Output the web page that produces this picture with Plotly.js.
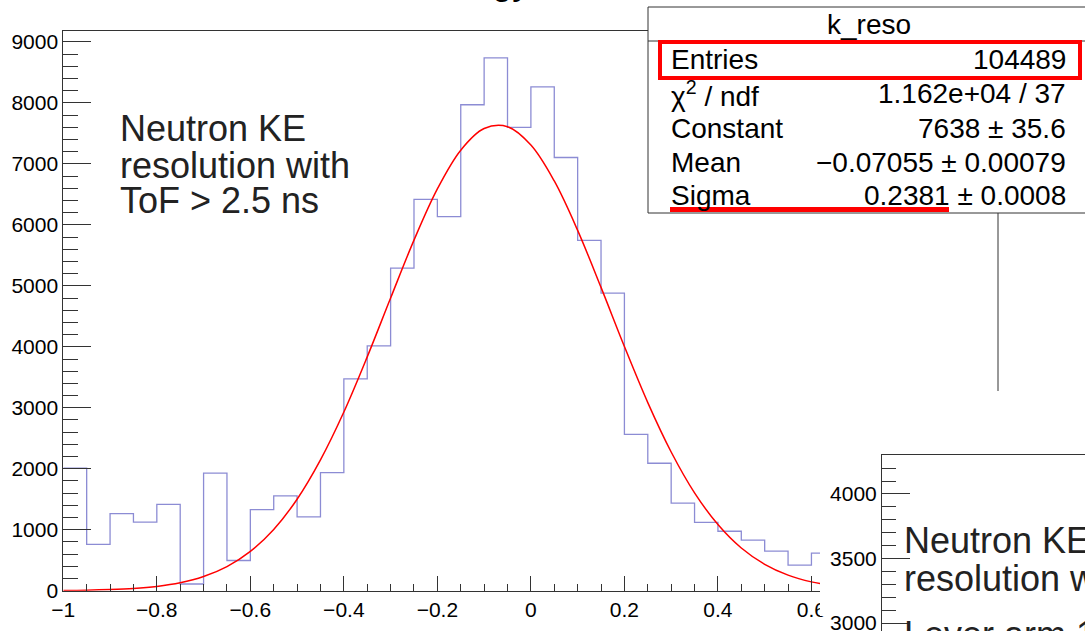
<!DOCTYPE html>
<html>
<head>
<meta charset="utf-8">
<script src="https://cdn.plot.ly/plotly-3.0.1.min.js"></script>
<style>
html,body{margin:0;padding:0;background:#fff;overflow:hidden;}
#plot{width:1085px;height:631px;}
</style>
</head>
<body>
<div id="plot"></div>
<script>
// ---- data ----
const binLowEdges = [-1.00,-0.95,-0.90,-0.85,-0.80,-0.75,-0.70,-0.65,-0.60,-0.55,
                     -0.50,-0.45,-0.40,-0.35,-0.30,-0.25,-0.20,-0.15,-0.10,-0.05,
                      0.00, 0.05, 0.10, 0.15, 0.20, 0.25, 0.30, 0.35, 0.40, 0.45,
                      0.50, 0.55, 0.60];
const binCounts = [2010, 760,1265,1125,1415, 110,1930, 495,1330,1555,
                   1210,1935,3475,4015,5290,6420,6135,7970,8740,7600,
                   8265,7105,5745,4880,2565,2090,1435,1120, 975, 830,
                    650, 420, 615];
const binWidth = 0.05;

const fitX = [-1.00,-0.95,-0.90,-0.85,-0.80,-0.75,-0.70,-0.65,-0.60,-0.55,
              -0.50,-0.45,-0.40,-0.35,-0.30,-0.25,-0.20,-0.15,-0.10,-0.05,
               0.00, 0.05, 0.10, 0.15, 0.20, 0.25, 0.30, 0.35, 0.40, 0.45,
               0.50, 0.55, 0.60, 0.65];
const fitY = [4, 8, 18, 36, 70, 130, 232, 395, 645, 1005,
              1500, 2145, 2930, 3835, 4800, 5750, 6590, 7225, 7580, 7610,
              7310, 6720, 5910, 4975, 4005, 3085, 2275, 1605, 1085, 700,
              433, 256, 145, 78];

const mainYTicks = [0,1000,2000,3000,4000,5000,6000,7000,8000,9000];
const insetYTicks = [3000,3500,4000];

const statsTitle = "k_reso";
const statsLabels = ["Entries", "χ<sup>2</sup> / ndf", "Constant", "Mean", "Sigma"];
const statsValues = ["104489", "1.162e+04 / 37", "7638 ± 35.6", "−0.07055 ± 0.00079", "0.2381 ± 0.0008"];

const mainText = ["Neutron KE", "resolution with", "ToF > 2.5 ns"];
const insetText = ["Neutron KE", "resolution with", "Lever arm 1"];
const titleText = "Neutron Kinetic Energy";

// ---- helpers (pixel -> paper) ----
const W = 1085, H = 631;
const px = x => x / W;
const py = y => 1 - y / H;

const histX = binLowEdges.concat([binLowEdges[binLowEdges.length - 1] + binWidth]);
const histY = binCounts.concat([binCounts[binCounts.length - 1]]);

const traces = [
  {x: histX, y: histY, type: 'scatter', mode: 'lines', line: {shape: 'hv', color: '#8c8cd4', width: 1.3},
   xaxis: 'x', yaxis: 'y', hoverinfo: 'skip'},
  {x: fitX, y: fitY, type: 'scatter', mode: 'lines', line: {shape: 'spline', color: '#ff0000', width: 1.5},
   xaxis: 'x', yaxis: 'y', hoverinfo: 'skip'},
  {x: [], y: [], type: 'scatter', mode: 'lines', xaxis: 'x2', yaxis: 'y2'}
];

const axCol = '#333';
const tickFont = {size: 21, color: '#000', family: 'Liberation Sans, Arial, sans-serif'};

const annotations = [];
// partially visible title (only descenders show)
annotations.push({text: titleText, xref: 'paper', yref: 'paper', x: px(532), y: py(-18),
  xanchor: 'right', yanchor: 'middle', showarrow: false, font: {size: 36, color: '#000'}});
// main text
const mainCenters = [129, 165, 200.5];
mainText.forEach((t, i) => annotations.push({text: t, xref: 'paper', yref: 'paper', x: px(118), y: py(mainCenters[i]),
  xanchor: 'left', yanchor: 'middle', showarrow: false, font: {size: 36, color: '#222'}}));
// inset text
const insetCenters = [540, 578, 634];
insetText.forEach((t, i) => annotations.push({text: t, xref: 'paper', yref: 'paper', x: px(902), y: py(insetCenters[i]),
  xanchor: 'left', yanchor: 'middle', showarrow: false, font: {size: 36, color: '#222'}}));
// stats box
annotations.push({text: statsTitle, xref: 'paper', yref: 'paper', x: px(869), y: py(25),
  xanchor: 'center', yanchor: 'middle', showarrow: false, font: {size: 28, color: '#000'}});
const rowCenters = [59, 93.5, 128, 162, 195];
statsLabels.forEach((t, i) => annotations.push({text: t, xref: 'paper', yref: 'paper', x: px(669), y: py(rowCenters[i]),
  xanchor: 'left', yanchor: 'middle', showarrow: false, font: {size: 28, color: '#000'}}));
statsValues.forEach((t, i) => annotations.push({text: t, xref: 'paper', yref: 'paper', x: px(1068), y: py(rowCenters[i]),
  xanchor: 'right', yanchor: 'middle', showarrow: false, font: {size: 28, color: '#000'}}));

const shapes = [
  // stats box
  {type: 'rect', xref: 'paper', yref: 'paper', x0: px(648), x1: px(1100), y0: py(213), y1: py(7),
   fillcolor: '#fff', line: {color: axCol, width: 1}, layer: 'above'},
  {type: 'line', xref: 'paper', yref: 'paper', x0: px(648), x1: px(1100), y0: py(41), y1: py(41),
   line: {color: axCol, width: 1}, layer: 'above'},
  // red highlight box
  {type: 'rect', xref: 'paper', yref: 'paper', x0: px(660), x1: px(1080), y0: py(78), y1: py(42),
   line: {color: '#ff0000', width: 4}, layer: 'above'},
  // red underline
  {type: 'rect', xref: 'paper', yref: 'paper', x0: px(670), x1: px(949), y0: py(212), y1: py(207),
   fillcolor: '#ff0000', line: {width: 0}, layer: 'above'},
  // right frame of the main pad (visible part)
  {type: 'line', xref: 'paper', yref: 'paper', x0: px(998), x1: px(998), y0: py(213), y1: py(391),
   line: {color: axCol, width: 1}, layer: 'above'},
  // second pad covering the end of the x labels
  {type: 'rect', xref: 'paper', yref: 'paper', x0: px(820), x1: px(830), y0: py(616), y1: py(596),
   fillcolor: '#fff', line: {width: 0}, layer: 'above'}
];

const layout = {
  width: W, height: H,
  margin: {l: 0, r: 0, t: 0, b: 0, pad: 0},
  paper_bgcolor: '#fff', plot_bgcolor: 'rgba(0,0,0,0)',
  showlegend: false,
  font: {family: 'Liberation Sans, Arial, sans-serif', color: '#000'},
  xaxis: {
    domain: [px(63.3), px(820)], range: [-1, 0.6183], anchor: 'y',
    tick0: 0, dtick: 0.2, ticks: 'inside', ticklen: 15, tickcolor: axCol, tickwidth: 1,
    minor: {dtick: 0.05, ticks: 'inside', ticklen: 7, tickcolor: axCol, tickwidth: 1, showgrid: false},
    showline: true, linecolor: axCol, linewidth: 1, mirror: true,
    showgrid: false, zeroline: false, tickfont: tickFont, fixedrange: true
  },
  yaxis: {
    domain: [py(590.7), py(31)], range: [0, 9180], anchor: 'x',
    tickmode: 'array', tickvals: mainYTicks, ticktext: mainYTicks.map(String),
    ticks: 'inside', ticklen: 28, tickcolor: axCol, tickwidth: 1,
    minor: {dtick: 200, ticks: 'inside', ticklen: 15, tickcolor: axCol, tickwidth: 1, showgrid: false},
    showline: true, linecolor: axCol, linewidth: 1,
    showgrid: false, zeroline: false, tickfont: tickFont, fixedrange: true
  },
  xaxis2: {
    domain: [px(882), 1], range: [0, 1], anchor: 'y2', side: 'top',
    showline: true, linecolor: axCol, linewidth: 1, ticks: '', showticklabels: false,
    showgrid: false, zeroline: false, fixedrange: true
  },
  yaxis2: {
    domain: [0, py(455)], range: [2938, 4302], anchor: 'x2',
    tickmode: 'array', tickvals: insetYTicks, ticktext: insetYTicks.map(String),
    ticks: 'inside', ticklen: 28, tickcolor: axCol, tickwidth: 1,
    minor: {dtick: 100, ticks: 'inside', ticklen: 14, tickcolor: axCol, tickwidth: 1, showgrid: false},
    showline: true, linecolor: axCol, linewidth: 1, ticklabeloverflow: 'allow',
    showgrid: false, zeroline: false, tickfont: tickFont, fixedrange: true
  },
  shapes: shapes,
  annotations: annotations
};

Plotly.newPlot('plot', traces, layout, {displayModeBar: false, staticPlot: true});
</script>
</body>
</html>
